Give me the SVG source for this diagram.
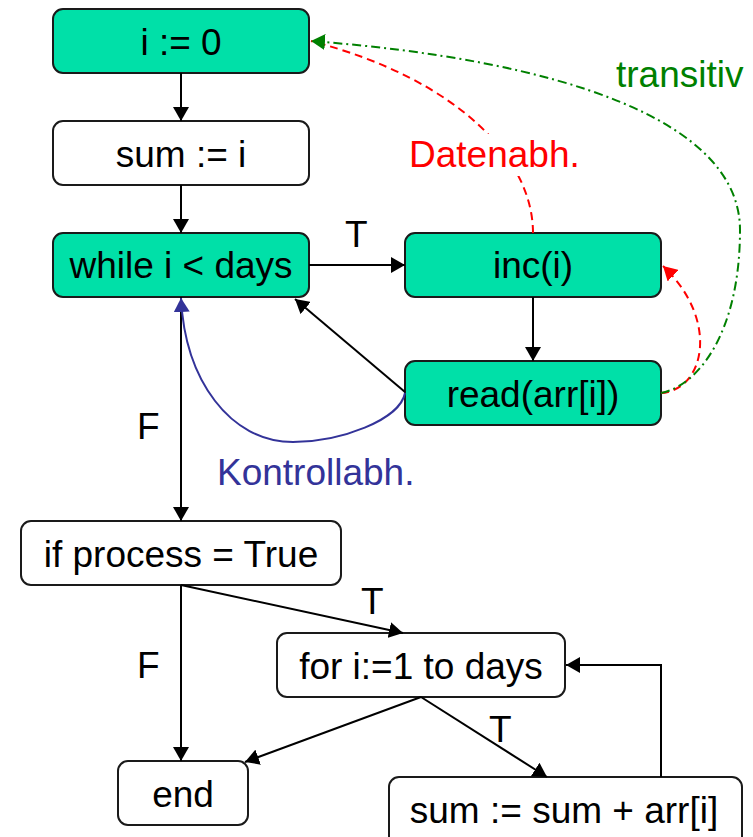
<svg xmlns="http://www.w3.org/2000/svg" width="753" height="837" viewBox="0 0 753 837">
  <style>
    .box { stroke: #1a1a1a; stroke-width: 2; }
    .hot { fill: #00E0A8; }
    .plain { fill: #ffffff; }
    text { font-family: "Liberation Sans", Arial, sans-serif; font-size: 37px; }
    .lbl { text-anchor: middle; fill: #000000; }
    .flow { fill: none; stroke: #000000; stroke-width: 2; marker-end: url(#arrow); }
    .ctrl { fill: none; stroke: #333399; stroke-width: 2; marker-end: url(#arrowBlue); }
    .data { fill: none; stroke: #ff0000; stroke-width: 2; stroke-dasharray: 8 5; }
    .trans { fill: none; stroke: #008000; stroke-width: 2; stroke-dasharray: 9 4 2 4; }
  </style>
  <defs>
    <marker id="arrow" viewBox="0 0 14 16" refX="14" refY="8" markerWidth="14" markerHeight="16" markerUnits="userSpaceOnUse" orient="auto">
      <path d="M0,0 L14,8 L0,16 z" fill="#000000"/>
    </marker>
    <marker id="arrowBlue" viewBox="0 0 14 16" refX="14" refY="8" markerWidth="14" markerHeight="16" markerUnits="userSpaceOnUse" orient="auto">
      <path d="M0,0 L14,8 L0,16 z" fill="#333399"/>
    </marker>
    <marker id="arrowRed" viewBox="0 0 14 16" refX="14" refY="8" markerWidth="14" markerHeight="16" markerUnits="userSpaceOnUse" orient="auto">
      <path d="M0,0 L14,8 L0,16 z" fill="#ff0000"/>
    </marker>
    <marker id="arrowGreen" viewBox="0 0 14 16" refX="14" refY="8" markerWidth="14" markerHeight="16" markerUnits="userSpaceOnUse" orient="auto">
      <path d="M0,0 L14,8 L0,16 z" fill="#008000"/>
    </marker>
  </defs>

  <!-- nodes -->
  <g id="n-init">
    <rect class="box hot" x="53" y="9" width="256" height="64" rx="10"/>
    <text class="lbl" x="181" y="55">i := 0</text>
  </g>
  <g id="n-sum0">
    <rect class="box plain" x="53" y="121" width="256" height="64" rx="10"/>
    <text class="lbl" x="181" y="167">sum := i</text>
  </g>
  <g id="n-while">
    <rect class="box hot" x="53" y="233" width="256" height="64" rx="10"/>
    <text class="lbl" x="181" y="278">while i &lt; days</text>
  </g>
  <g id="n-inc">
    <rect class="box hot" x="405" y="233" width="256" height="64" rx="10"/>
    <text class="lbl" x="533" y="278">inc(i)</text>
  </g>
  <g id="n-read">
    <rect class="box hot" x="405" y="361" width="256" height="64" rx="10"/>
    <text class="lbl" x="533" y="407">read(arr[i])</text>
  </g>
  <g id="n-if">
    <rect class="box plain" x="21" y="521" width="320" height="64" rx="10"/>
    <text class="lbl" x="181" y="567">if process = True</text>
  </g>
  <g id="n-for">
    <rect class="box plain" x="277" y="633" width="288" height="64" rx="10"/>
    <text class="lbl" x="421" y="679">for i:=1 to days</text>
  </g>
  <g id="n-end">
    <rect class="box plain" x="118" y="761" width="130" height="64" rx="10"/>
    <text class="lbl" x="183" y="807">end</text>
  </g>
  <g id="n-acc">
    <rect class="box plain" x="389" y="777" width="353" height="72" rx="10"/>
    <text class="lbl" x="564" y="823">sum := sum + arr[i]</text>
  </g>

  <!-- connectors -->
  <g id="edges">
    <path class="flow" d="M181,73 V121"/>
    <path class="flow" d="M181,185 V233"/>
    <path class="flow" d="M309,265 H405"/>
    <path class="flow" d="M533,297 V361"/>
    <path class="flow" d="M405,392 L295,299"/>
    <path class="flow" d="M181,297 V521"/>
    <path class="flow" d="M181,585 V761"/>
    <path class="flow" d="M181,585 L403,633"/>
    <path class="flow" d="M421,697 L245,762"/>
    <path class="flow" d="M421,697 L547,777"/>
    <path class="flow" d="M661,777 V665 H566"/>

    <!-- control dependence -->
    <path class="ctrl" d="M405,393 C400,420 340,442 293,442 C230,442 185,380 181,298"/>

    <!-- data dependences -->
    <path class="data" d="M533,233 C533,160 460,80 311,41"/>
    <path class="data" marker-end="url(#arrowRed)" d="M661,393 C705,390 720,320 663,266"/>

    <!-- transitive dependence -->
    <path class="trans" marker-end="url(#arrowGreen)" d="M661,393 C700,385 740,330 740,230 C740,120 560,60 311,41"/>
  </g>

  <!-- edge labels -->
  <g id="labels">
    <text x="345" y="247">T</text>
    <text x="137" y="439">F</text>
    <text x="137" y="678">F</text>
    <text x="361" y="614">T</text>
    <text x="489" y="742">T</text>
    <rect x="405" y="134" width="180" height="42" fill="#ffffff"/>
    <text x="409" y="167" fill="#ff0000">Datenabh.</text>
    <text x="616" y="87" fill="#008000">transitiv</text>
    <text x="217" y="485" fill="#333399">Kontrollabh.</text>
  </g>
</svg>
